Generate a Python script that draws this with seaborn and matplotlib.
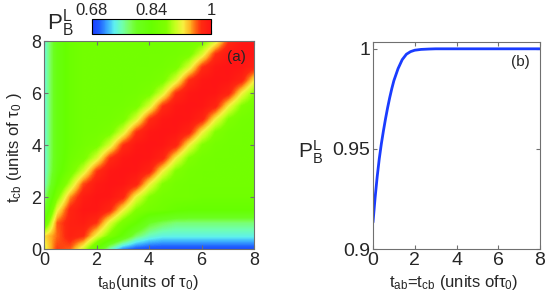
import numpy as np
import matplotlib
matplotlib.use("Agg")
import matplotlib.pyplot as plt
import seaborn as sns
from matplotlib.colors import LinearSegmentedColormap

sns.set_style("ticks")
plt.rcParams['font.family'] = ['Liberation Sans', 'DejaVu Sans']
plt.rcParams['mathtext.fontset'] = 'custom'
plt.rcParams['mathtext.rm'] = 'Liberation Sans'
plt.rcParams['mathtext.it'] = 'Liberation Sans:italic'

# --- данные панели (a): P_B^L на сетке t_ab x t_cb (шаг 0.5), строки сверху вниз (t_cb = 8 ... 0)
t_ab = [0, 0.5, 1, 1.5, 2, 2.5, 3, 3.5, 4, 4.5, 5, 5.5, 6, 6.5, 7, 7.5, 8]
t_cb = [8, 7.5, 7, 6.5, 6, 5.5, 5, 4.5, 4, 3.5, 3, 2.5, 2, 1.5, 1, 0.5, 0]
P_map = [
    [.745, .82, .85, .86, .86, .86, .86, .86, .86, .86, .86, .862, .872, .912, .972, .996, 1.0],
    [.745, .82, .85, .86, .86, .86, .86, .86, .86, .86, .862, .872, .912, .972, .996, 1.0, .998],
    [.745, .82, .85, .86, .86, .86, .86, .86, .86, .862, .872, .912, .972, .996, 1.0, .998, .982],
    [.745, .82, .85, .86, .86, .86, .86, .86, .862, .872, .912, .972, .996, 1.0, .998, .982, .925],
    [.745, .82, .85, .86, .86, .86, .86, .862, .872, .912, .972, .996, 1.0, .998, .982, .925, .88],
    [.745, .82, .85, .86, .86, .86, .862, .872, .912, .972, .996, 1.0, .998, .982, .925, .88, .863],
    [.745, .82, .85, .86, .86, .862, .872, .912, .972, .996, 1.0, .998, .982, .925, .88, .863, .86],
    [.745, .82, .85, .86, .862, .872, .912, .972, .996, 1.0, .998, .982, .925, .88, .863, .86, .86],
    [.745, .82, .85, .862, .872, .912, .972, .996, 1.0, .998, .982, .925, .88, .863, .86, .86, .86],
    [.745, .82, .855, .872, .912, .972, .996, 1.0, .998, .982, .925, .88, .863, .86, .86, .86, .86],
    [.745, .825, .865, .91, .97, .996, 1.0, .998, .982, .925, .88, .863, .86, .86, .86, .86, .86],
    [.75, .84, .90, .965, .993, 1.0, .998, .982, .925, .88, .863, .86, .86, .86, .86, .86, .86],
    [.765, .875, .95, .99, .999, .997, .98, .92, .88, .863, .86, .86, .855, .855, .855, .855, .855],
    [.79, .92, .98, .997, .997, .978, .925, .88, .862, .855, .845, .84, .84, .84, .84, .84, .84],
    [.84, .96, .985, .99, .972, .915, .87, .84, .80, .785, .775, .775, .775, .775, .775, .775, .775],
    [.93, .958, .985, .975, .92, .875, .83, .78, .755, .745, .745, .745, .745, .745, .745, .745, .745],
    [.913, .97, .96, .91, .84, .76, .712, .695, .69, .69, .69, .69, .69, .69, .69, .69, .69],
]

# --- данные панели (b): P_B^L вдоль диагонали t_ab = t_cb
t_diag = [0, 0.1, 0.2, 0.3, 0.4, 0.5, 0.6, 0.7, 0.8, 0.9, 1.0, 1.2, 1.4, 1.6, 1.8, 2.0,
          2.3, 2.7, 3, 4, 5, 6, 7, 8]
P_diag = [0.9133, 0.9255, 0.9360, 0.9450, 0.9525, 0.9590, 0.9650, 0.9705, 0.9755, 0.9800,
          0.9840, 0.9900, 0.9945, 0.9972, 0.9985, 0.9992, 0.9996, 0.9998, 0.9999, 0.9999,
          0.9999, 0.9999, 0.9999, 0.9999]

# палитра как в MATLAB-рисунке: синий - голубой - зелёный - жёлтый - красный
vmin, vmax = 0.68, 1.0
nodes = [(0.68, '#1a3cff'), (0.70, '#2060ff'), (0.72, '#3aa8ff'), (0.74, '#5ef0f0'),
         (0.76, '#70ffb0'), (0.78, '#7cff60'), (0.80, '#6cff20'), (0.84, '#66ff00'),
         (0.88, '#80ff00'), (0.905, '#c8ff20'), (0.925, '#f8f040'), (0.945, '#ffb020'),
         (0.96, '#ff6010'), (0.975, '#ff2a10'), (1.0, '#ff1515')]
cmap = LinearSegmentedColormap.from_list(
    'pbl', [((v - vmin) / (vmax - vmin), c) for v, c in nodes])

fig = plt.figure(figsize=(5.5, 2.95), dpi=100)
ax_a = fig.add_axes([44 / 550, 46 / 295, 210 / 550, 208 / 295])
cax = fig.add_axes([92 / 550, 261 / 295, 119 / 550, 15 / 295])
ax_b = fig.add_axes([373 / 550, 46 / 295, 167 / 550, 207 / 295])

spine_col = '#707070'


def style_axes(ax, size):
    ax.tick_params(direction='in', length=3, width=0.8, top=True, right=True,
                   labelsize=size, color=spine_col, pad=2)
    for s in ax.spines.values():
        s.set_color(spine_col)
        s.set_linewidth(0.8)


# (a) карта
im = ax_a.imshow(np.array(P_map), cmap=cmap, vmin=vmin, vmax=vmax, origin='upper',
                 extent=(-0.25, 8.25, -0.25, 8.25), interpolation='bilinear', aspect='auto')
ax_a.set_xlim(0, 8)
ax_a.set_ylim(0, 8)
ax_a.set_xticks([0, 2, 4, 6, 8])
ax_a.set_yticks([0, 2, 4, 6, 8])
style_axes(ax_a, 13)
ax_a.text(0.96, 0.955, '(a)', transform=ax_a.transAxes, ha='right', va='top', fontsize=11)
fig.text(148 / 550, 1 - 282 / 295, r'$\mathrm{t_{ab}}$(units of $\mathrm{τ_0}$)',
         ha='center', va='center', fontsize=12)
fig.text(15 / 550, 1 - 148 / 295, r'$\mathrm{t_{cb}}$ (units of $\mathrm{τ_0}$ )',
         ha='center', va='center', rotation=90, fontsize=12)

# шкала цвета
cb = fig.colorbar(im, cax=cax, orientation='horizontal')
cb.set_ticks([0.68, 0.76, 0.84, 0.92, 1.0])
cb.set_ticklabels(['0.68', '', '0.84', '', '1'])
cax.xaxis.set_ticks_position('both')
cax.xaxis.set_label_position('top')
cax.tick_params(direction='in', length=3, width=0.8, labelsize=12, color='black',
                labeltop=True, labelbottom=False, pad=1)
cb.outline.set_edgecolor('black')
cb.outline.set_linewidth(0.8)
fig.text(60 / 550, 1 - 23 / 295, r'$\mathrm{P_B^L}$', ha='center', va='center', fontsize=16)

# (b) кривая вдоль диагонали
sns.lineplot(x=t_diag, y=P_diag, ax=ax_b, color='#1a3cff', linewidth=2)
ax_b.set_xlim(0, 8)
ax_b.set_ylim(0.9, 1.0033)
ax_b.set_xticks([0, 2, 4, 6, 8])
ax_b.set_yticks([0.9, 0.95, 1.0])
ax_b.set_yticklabels(['0.9', '0.95', '1'])
style_axes(ax_b, 14)
ax_b.text(0.94, 0.937, '(b)', transform=ax_b.transAxes, ha='right', va='top', fontsize=11)
fig.text(311 / 550, 1 - 152 / 295, r'$\mathrm{P_B^L}$', ha='center', va='center', fontsize=15)
fig.text(454 / 550, 1 - 283 / 295, r'$\mathrm{t_{ab}}$=$\mathrm{t_{cb}}$ (units of$\mathrm{τ_0}$)',
         ha='center', va='center', fontsize=12)

plt.savefig('out.png', dpi=100)
plt.close()
